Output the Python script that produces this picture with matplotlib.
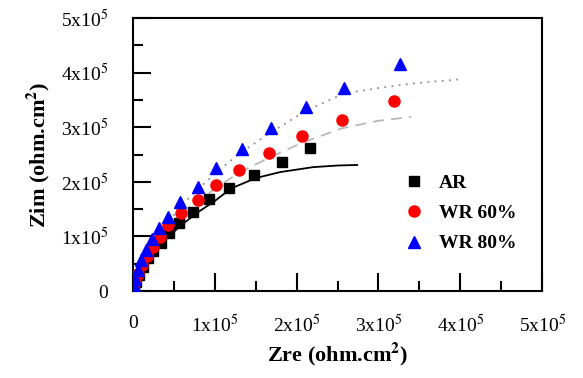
import matplotlib
matplotlib.use("Agg")
import matplotlib.pyplot as plt
from matplotlib.ticker import MultipleLocator, FuncFormatter

plt.rcParams['font.family'] = ['Liberation Serif', 'DejaVu Serif']
plt.rcParams['mathtext.fontset'] = 'stix'

# Data (units of 1e5 ohm.cm^2)
ar_x = [0.01, 0.04, 0.07, 0.12, 0.18, 0.25, 0.34, 0.44, 0.56, 0.74, 0.93, 1.17, 1.48, 1.82, 2.16]
ar_y = [0.05, 0.16, 0.29, 0.44, 0.60, 0.73, 0.88, 1.06, 1.25, 1.45, 1.69, 1.89, 2.12, 2.36, 2.62]
wr60_x = [0.02, 0.06, 0.11, 0.17, 0.25, 0.33, 0.43, 0.59, 0.79, 1.02, 1.30, 1.66, 2.07, 2.55, 3.19]
wr60_y = [0.16, 0.31, 0.48, 0.64, 0.81, 0.99, 1.21, 1.43, 1.67, 1.94, 2.22, 2.53, 2.84, 3.13, 3.48]
wr80_x = [0.01, 0.02, 0.06, 0.10, 0.16, 0.23, 0.32, 0.43, 0.58, 0.79, 1.02, 1.33, 1.69, 2.12, 2.58, 3.26]
wr80_y = [0.09, 0.22, 0.38, 0.57, 0.75, 0.95, 1.15, 1.36, 1.63, 1.90, 2.25, 2.60, 2.99, 3.37, 3.72, 4.16]

fit_ar_x = [0, 0.01, 0.03, 0.07, 0.12, 0.2, 0.3, 0.45, 0.6, 0.8, 1.0, 1.2, 1.5, 1.8, 2.2, 2.5, 2.74]
fit_ar_y = [0, 0.07, 0.18, 0.32, 0.45, 0.62, 0.80, 1.02, 1.22, 1.45, 1.65, 1.88, 2.07, 2.18, 2.27, 2.30, 2.31]
fit_60_x = [0, 0.02, 0.06, 0.12, 0.2, 0.3, 0.45, 0.6, 0.8, 1.0, 1.3, 1.66, 2.07, 2.55, 3.0, 3.4]
fit_60_y = [0, 0.17, 0.33, 0.50, 0.68, 0.88, 1.12, 1.37, 1.63, 1.88, 2.17, 2.44, 2.72, 2.98, 3.12, 3.19]
fit_80_x = [0, 0.02, 0.06, 0.12, 0.2, 0.3, 0.45, 0.6, 0.8, 1.0, 1.3, 1.69, 2.12, 2.58, 3.0, 3.4, 4.0]
fit_80_y = [0, 0.20, 0.38, 0.57, 0.78, 1.00, 1.30, 1.58, 1.87, 2.15, 2.52, 2.91, 3.31, 3.62, 3.72, 3.80, 3.88]

scale = 1e5
fig = plt.figure(figsize=(5.83, 3.78), dpi=100)
ax = fig.add_axes([0.228, 0.230, 0.702, 0.722])

ax.plot([v*scale for v in fit_ar_x], [v*scale for v in fit_ar_y], color='black', lw=1.3, zorder=2)
ax.plot([v*scale for v in fit_60_x], [v*scale for v in fit_60_y], color='#b8b8b8', lw=1.3, ls=(0, (6, 4)), zorder=2)
ax.plot([v*scale for v in fit_80_x], [v*scale for v in fit_80_y], color='#909090', lw=1.3, ls=(0, (1, 3)), zorder=2)

ax.plot([v*scale for v in ar_x], [v*scale for v in ar_y], 's', color='black', ms=6.5, ls='none', label='AR', zorder=3)
ax.plot([v*scale for v in wr60_x], [v*scale for v in wr60_y], 'o', color='#ff0000', ms=8, ls='none', label='WR 60%', zorder=3)
ax.plot([v*scale for v in wr80_x], [v*scale for v in wr80_y], '^', color='#0000ff', ms=8.5, ls='none', label='WR 80%', zorder=3)

ax.set_xlim(0, 5e5)
ax.set_ylim(0, 5e5)
ax.xaxis.set_major_locator(MultipleLocator(1e5))
ax.xaxis.set_minor_locator(MultipleLocator(0.5e5))
ax.yaxis.set_major_locator(MultipleLocator(1e5))
ax.yaxis.set_minor_locator(MultipleLocator(0.5e5))

def fmt(v, pos):
    n = int(round(v / 1e5))
    if n == 0:
        return '0'
    return r'%dx10$^{5}$' % n

ax.xaxis.set_major_formatter(FuncFormatter(fmt))
ax.yaxis.set_major_formatter(FuncFormatter(fmt))
ax.tick_params(which='major', direction='in', length=13, width=1.5, labelsize=14, top=False, right=False)
ax.tick_params(which='minor', direction='in', length=7, width=1.5, top=False, right=False)
ax.tick_params(axis='x', which='major', pad=17)
ax.tick_params(axis='y', which='major', pad=18)
for s in ax.spines.values():
    s.set_linewidth(1.5)

ax.set_xlabel(r'Zre (ohm.cm$^{\mathbf{2}}$)', fontsize=16, fontweight='bold', labelpad=3)
ax.set_ylabel(r'Zim (ohm.cm$^{\mathbf{2}}$)', fontsize=16, fontweight='bold', labelpad=6)

leg = ax.legend(loc='center left', bbox_to_anchor=(0.62, 0.285), frameon=False,
                prop={'weight': 'bold', 'size': 14}, handletextpad=0.8, labelspacing=0.65,
                handlelength=1.0)

fig.savefig('out.png', dpi=100)
